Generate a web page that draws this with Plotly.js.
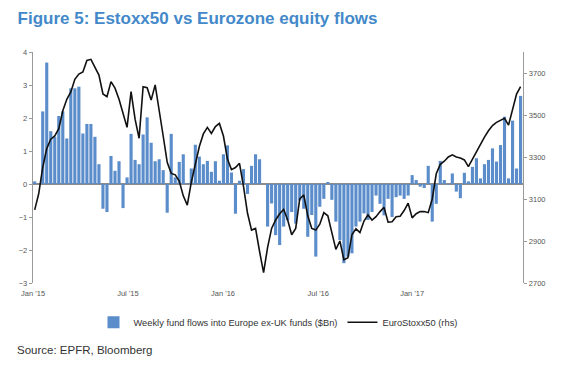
<!DOCTYPE html>
<html>
<head>
<meta charset="utf-8">
<script src="https://cdn.plot.ly/plotly-3.0.1.min.js"></script>
<style>html,body{margin:0;padding:0;background:#fff;}#chart{width:567px;height:368px;}</style>
</head>
<body>
<div id="chart"></div>
<script>
// Weekly fund flows into Europe ex-UK funds ($Bn), one value per week starting Jan 2015
const flows = [
  0.08, 0.0, 2.2, 3.68, 1.6, 1.43, 2.06, 2.2, 1.38, 2.9,
  2.9, 2.95, 1.53, 1.82, 1.82, 1.43, 0.6, -0.75, -0.85, 0.85,
  0.4, 0.69, -0.73, 0.2, 1.52, 0.73, 0.6, 1.5, 2.02, 1.25,
  0.69, 0.75, 0.42, -0.87, 1.52, 0.2, 0.67, 0.9, 0.02, 0.47,
  1.19, 0.83, 0.6, 0.7, 0.37, 0.69, 0.1, 0.9, 1.17, 0.35,
  -0.9, 0.1, 0.45, -0.3, 0.55, 0.9, 0.75, 0.0, -1.29, -0.59,
  -1.55, -1.85, -1.29, -1.1, -0.85, -1.2, -0.5, -0.75, -1.6, -0.94,
  -2.2, -0.69, -0.45, 0.06, -0.48, -1.14, -1.7, -2.4, -2.2, -2.1,
  -1.29, -1.14, -0.89, -1.09, -0.85, -0.35, -0.6, -0.95, -0.45, -1.0,
  -0.4, -0.35, -0.45, -0.35, 0.27, 0.12, -0.08, -0.12, 0.55, -1.14,
  -0.6, 0.7, 0.12, -0.02, 0.32, -0.23, -0.43, 0.34, 0.08, 0.52,
  0.78, 0.17, 0.6, 0.73, 1.08, 0.68, 1.18, 2.04, 0.17, 1.92,
  0.47, 2.67
];

// EuroStoxx50 index level (rhs), weekly
const stoxx = [
  3048, 3125, 3250, 3340, 3385, 3400, 3435, 3520, 3575, 3610,
  3670, 3695, 3705, 3760, 3765, 3728, 3690, 3600, 3587, 3659,
  3628, 3575, 3510, 3441, 3611, 3480, 3389, 3635, 3630, 3571,
  3643, 3530, 3400, 3275, 3222, 3215, 3185, 3115, 3071, 3180,
  3260, 3350, 3410, 3441, 3412, 3445, 3460, 3400, 3290, 3240,
  3250, 3270, 3160, 3032, 2952, 2960, 2850, 2749, 2870, 2960,
  3000, 3030, 3050, 3000, 2930, 2960, 3100, 3119, 3020, 2960,
  2952, 2980, 3035, 3020, 2940, 2860, 2900, 2810, 2820, 2930,
  2958, 2940, 2995, 3024, 3000, 3016, 3040, 3060, 2990, 2992,
  3016, 3018, 3045, 3080, 3010, 3030, 3040, 3040, 3035, 3100,
  3220, 3265, 3280, 3300, 3310, 3300, 3295, 3286, 3254, 3290,
  3320, 3360, 3395, 3425, 3450, 3465, 3476, 3484, 3452, 3520,
  3600, 3635
];

const tickLabels = ["Jan '15", "Jul '15", "Jan '16", "Jul '16", "Jan '17"];
const tickWeeks = [-0.4, 23.2, 46.9, 70.6, 94.0];
const leftTicks = [-3, -2, -1, 0, 1, 2, 3, 4];
const rightTicks = [2700, 2900, 3100, 3300, 3500, 3700];

const weeks = flows.map((_, i) => i);
const FONT = '"Liberation Sans", Arial, sans-serif';

const traces = [
  {
    type: 'bar', x: weeks, y: flows,
    name: 'Weekly fund flows into Europe ex-UK funds ($Bn)',
    marker: {color: '#5b8dcb', line: {width: 0}},
    yaxis: 'y'
  },
  {
    type: 'scatter', mode: 'lines', x: weeks, y: stoxx,
    name: 'EuroStoxx50 (rhs)',
    line: {color: '#111111', width: 1.6},
    yaxis: 'y2'
  }
];

const layout = {
  width: 567, height: 368,
  margin: {l: 33, r: 44, t: 52, b: 85},
  paper_bgcolor: '#ffffff', plot_bgcolor: '#ffffff',
  font: {family: FONT, color: '#444', size: 8},
  title: {
    text: '<b>Figure 5: Estoxx50 vs Eurozone equity flows</b>',
    font: {family: FONT, size: 17, color: '#4389ca'},
    x: 0.031, xanchor: 'left', y: 0.952, yanchor: 'middle'
  },
  bargap: 0.22,
  showlegend: true,
  legend: {
    orientation: 'h', x: 0.5, xanchor: 'center', y: -0.17, yanchor: 'middle',
    font: {family: FONT, size: 9.3, color: '#333'},
    itemwidth: 30, tracegroupgap: 0
  },
  xaxis: {
    range: [-0.42, 121.6],
    tickmode: 'array', tickvals: tickWeeks, ticktext: tickLabels,
    showgrid: false, zeroline: false, showline: false, ticks: '',
    tickfont: {size: 7.5, color: '#555'},
    ticklabelstandoff: 4
  },
  yaxis: {
    range: [-3, 4], tickmode: 'array', tickvals: leftTicks,
    showgrid: false, zeroline: true, zerolinecolor: '#8c8c8c', zerolinewidth: 1.5,
    showline: true, linecolor: '#9a9a9a', linewidth: 1.3,
    ticks: 'outside', ticklen: 3, tickcolor: '#9a9a9a',
    tickfont: {size: 7.5, color: '#555'}
  },
  yaxis2: {
    range: [2700, 3800], overlaying: 'y', side: 'right',
    tickmode: 'array', tickvals: rightTicks,
    showgrid: false, zeroline: false,
    showline: true, linecolor: '#9a9a9a', linewidth: 1.3,
    ticks: 'outside', ticklen: 3, tickcolor: '#9a9a9a',
    tickfont: {size: 7.5, color: '#555'}
  },
  annotations: [{
    text: 'Source: EPFR, Bloomberg', xref: 'paper', yref: 'paper',
    x: -0.037, xanchor: 'left', y: -0.29, yanchor: 'middle', showarrow: false,
    font: {family: FONT, size: 11.5, color: '#333'}
  }]
};

Plotly.newPlot('chart', traces, layout, {staticPlot: true, displayModeBar: false});
</script>
</body>
</html>
